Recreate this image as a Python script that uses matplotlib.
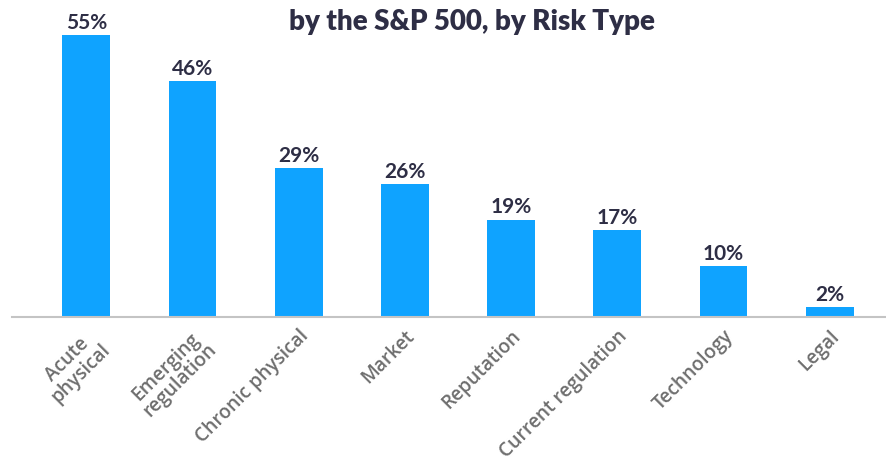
import matplotlib.pyplot as plt
import numpy as np

categories = ["Acute\nphysical", "Emerging\nregulation", "Chronic physical", "Market",
              "Reputation", "Current regulation", "Technology", "Legal"]
values = [55, 46, 29, 26, 19, 17, 10, 2]

bar_color = "#0fa3ff"
dark = "#2e2e45"
grey = "#6e6e6e"

fig = plt.figure(figsize=(8.86, 4.64), dpi=100)
ax = fig.add_axes([12 / 886, 1 - 318 / 464, 1 - 12 / 886, 318 / 464])

x = np.arange(len(categories))
ax.bar(x, values, width=0.45, color=bar_color, zorder=2)

# value labels above bars
for xi, v in zip(x, values):
    ax.text(xi, v + 0.6, f"{v}%", ha="center", va="bottom", fontsize=15,
            fontweight="bold", color=dark, family="Lato")

ax.set_xlim(-0.7, 7.53)
ax.set_ylim(0, 62)
ax.set_yticks([])
ax.set_xticks(x)
ax.set_xticklabels(categories, rotation=45, ha="right", rotation_mode="anchor",
                   fontsize=13.8, color=grey, family="Open Sans", fontweight="semibold",
                   multialignment="center", linespacing=0.95)
ax.tick_params(axis="x", length=0, pad=6)

for s in ["top", "right", "left"]:
    ax.spines[s].set_visible(False)
ax.spines["bottom"].set_color("#c4c4c4")
ax.spines["bottom"].set_linewidth(1.5)
ax.patch.set_alpha(0)

fig.text(0.533, 0.953, "by the S&P 500, by Risk Type", ha="center", va="center",
         fontsize=20, fontweight="heavy", color=dark, family="Lato")

fig.savefig("out.png", dpi=100)
